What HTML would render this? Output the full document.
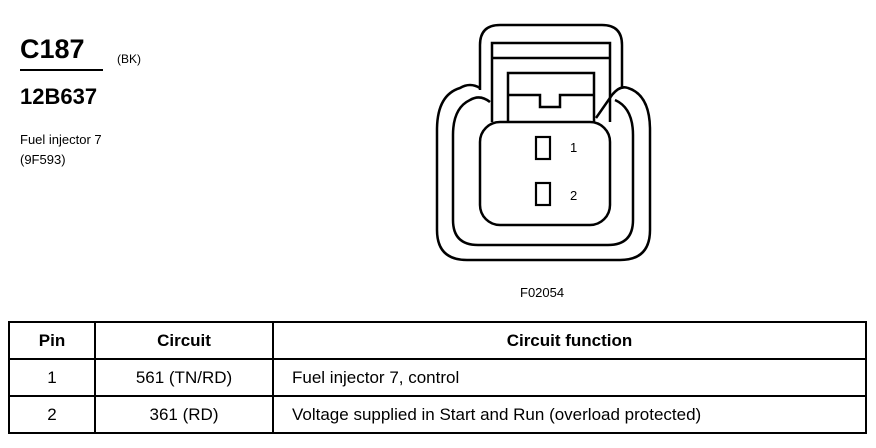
<!DOCTYPE html>
<html><head><style>
body{margin:0;width:876px;height:448px;background:#fff;font-family:"Liberation Sans",Arial,sans-serif;position:relative;overflow:hidden}
.t{position:absolute;color:#000;white-space:nowrap}
table{position:absolute;left:8px;top:321px;width:859px;border-collapse:collapse;font-size:17px}
td{border:2px solid #000;text-align:center;height:35px;padding:0}
</style></head><body>
<div class="t" style="left:20px;top:34px;font-size:27px;font-weight:bold">C187</div>
<div style="position:absolute;left:20px;top:69px;width:83px;height:2px;background:#000"></div>
<div class="t" style="left:117px;top:52px;font-size:12px">(BK)</div>
<div class="t" style="left:20px;top:84px;font-size:22px;font-weight:bold">12B637</div>
<div class="t" style="left:20px;top:132px;font-size:13px">Fuel injector 7</div>
<div class="t" style="left:20px;top:152px;font-size:13px">(9F593)</div>
<div class="t" style="left:520px;top:285px;font-size:13px">F02054</div>
<svg style="position:absolute;left:0;top:0" width="876" height="448" fill="none" stroke="#000" stroke-width="2.5">
<path d="M480,90 L480,45 Q480,25 500,25 L602,25 Q622,25 622,45 L622,88"/>
<path d="M480,88 Q470,82 460,88 Q437,95 437,130 L437,230 Q437,260 467,260 L620,260 Q650,260 650,230 L650,130 Q650,95 628,88 Q620,85 612,95 L596,118"/>
<path d="M490,102 Q480,94 470,100 Q453,108 453,135 L453,220 Q453,245 478,245 L608,245 Q633,245 633,220 L633,135 Q633,108 615,100"/>
<rect x="480" y="122" width="130" height="103" rx="20"/>
<path d="M492,122 L492,43 L610,43 L610,122 M492,58 L610,58"/>
<path d="M508,122 L508,73 L594,73 L594,122 M508,95 L540,95 L540,107 L560,107 L560,95 L594,95"/>
<rect x="536" y="137" width="14" height="22" stroke-width="2.2"/>
<rect x="536" y="183" width="14" height="22" stroke-width="2.2"/>
</svg>
<div class="t" style="left:570px;top:140px;font-size:13px">1</div>
<div class="t" style="left:570px;top:188px;font-size:13px">2</div>
<table>
<tr style="font-weight:bold"><td style="width:84px;height:34px">Pin</td><td style="width:176px">Circuit</td><td>Circuit function</td></tr>
<tr><td>1</td><td>561 (TN/RD)</td><td style="text-align:left;padding-left:18px">Fuel injector 7, control</td></tr>
<tr><td>2</td><td>361 (RD)</td><td style="text-align:left;padding-left:18px">Voltage supplied in Start and Run (overload protected)</td></tr>
</table>
</body></html>
